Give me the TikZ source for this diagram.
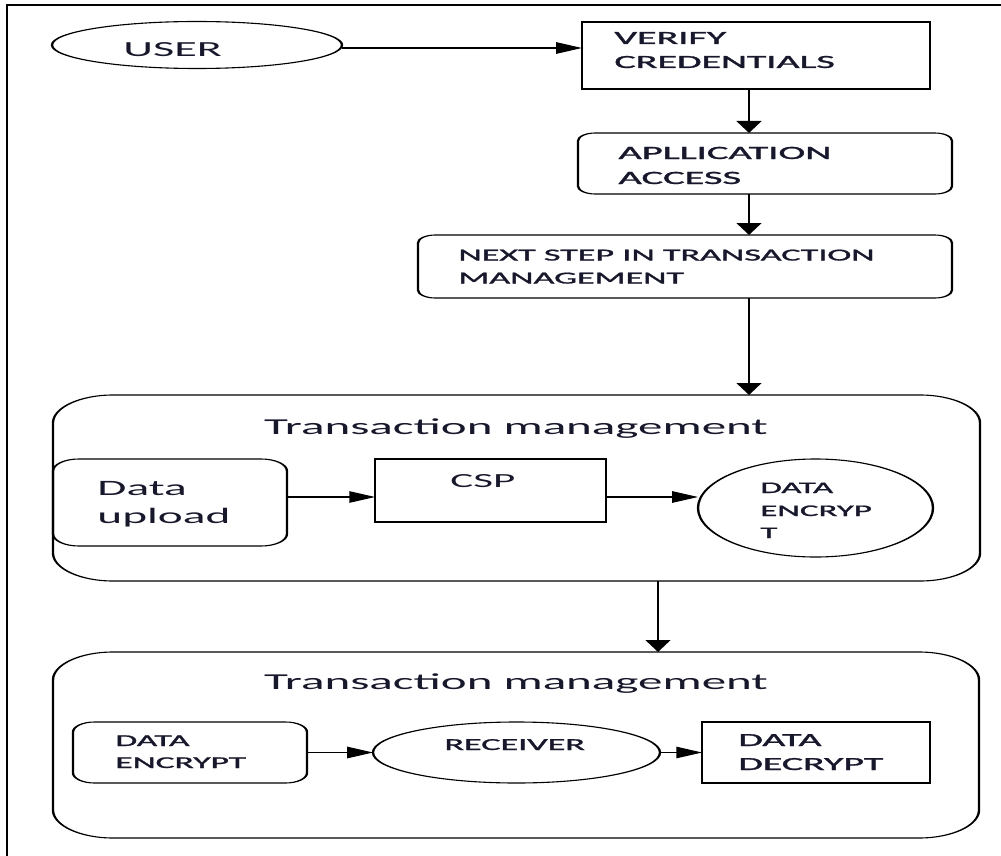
\documentclass[tikz,border=0pt]{standalone}
\usepackage{fontspec}
\setmainfont{Carlito}
\newfontfamily\heavyfont{Carlito}[FakeBold=1.2]
\usetikzlibrary{shapes.geometric,arrows.meta}
\definecolor{txt}{RGB}{24,24,44}
\begin{document}
\begin{tikzpicture}[x=1pt,y=-1pt]
\useasboundingbox (0,0) rectangle (1001,856);
\begin{scope}[x=0.465116pt, y=-1pt, transform canvas={xscale=2.15},
  shp/.style={draw=black, line width=1.1pt, inner sep=0pt, outer sep=0pt},
  rbox/.style={shp, rectangle, rounded corners=#1},
  sbox/.style={shp, rectangle},
  ell/.style={shp, ellipse},
  lbl/.style={anchor=base west, inner sep=0pt, text=txt, font=\fontsize{#1}{#1}\selectfont},
  hlbl/.style={anchor=base west, inner sep=0pt, text=txt, font=\heavyfont\fontsize{#1}{#1}\selectfont},
  ttl/.style={anchor=base, inner sep=0pt, text=txt, font=\fontsize{22.8}{24}\selectfont},
  arr/.style={line width=1.1pt, -{Triangle[length=12pt,width=11.5pt]}}]
% outer frame
\draw[line width=1.3pt] (1010,5) -- (7,5) -- (7,866);
% shapes
\node[ell, minimum width=134.9pt, minimum height=47pt] (user) at (197,45) {};
\node[sbox, minimum width=161.9pt, minimum height=67pt] (verify) at (756,55.5) {};
\node[rbox=8pt, minimum width=174pt, minimum height=61pt] (app) at (765,163.5) {};
\node[rbox=8pt, minimum width=248.4pt, minimum height=63pt] (next) at (685,266.5) {};
\node[rbox=28pt, minimum width=431.2pt, minimum height=186pt] (tm1) at (516.5,488) {};
\node[rbox=12pt, minimum width=108.8pt, minimum height=87pt] (upload) at (170,502.5) {};
\node[sbox, minimum width=107.4pt, minimum height=63pt] (csp) at (490.5,490.5) {};
\node[ell, minimum width=109.3pt, minimum height=98pt] (enc) at (815.5,508) {};
\node[rbox=28pt, minimum width=430.7pt, minimum height=186pt] (tm2) at (516,745) {};
\node[rbox=10pt, minimum width=108.8pt, minimum height=61pt] (denc) at (190,752.5) {};
\node[ell, minimum width=133.5pt, minimum height=61pt] (recv) at (516.5,752.5) {};
\node[sbox, minimum width=106pt, minimum height=61pt] (ddec) at (816,752.5) {};
% texts
\node[lbl=21.5] (tuser) at (123,56.8) {USER};
\node[hlbl=18.6] (tver1) at (614,44) {VERIFY};
\node[hlbl=18.6] (tver2) at (614,68) {CREDENTIALS};
\node[hlbl=18.8] (tapp1) at (618,159) {APLLICATION};
\node[hlbl=18.8] (tapp2) at (618,184) {ACCESS};
\node[hlbl=16.8] (tnext1) at (458,260.5) {NEXT STEP IN TRANSACTION};
\node[hlbl=16.8] (tnext2) at (458,283.5) {MANAGEMENT};
\node[ttl] (ttm1) at (516,434) {Transaction management};
\node[lbl=22] (tup1) at (97,495) {Data};
\node[lbl=22] (tup2) at (97,523) {upload};
\node[lbl=20] (tcsp) at (450,487) {CSP};
\node[hlbl=16.2] (tenc1) at (760,493) {DATA};
\node[hlbl=16.2] (tenc2) at (760,516) {ENCRYP};
\node[hlbl=16.2] (tenc3) at (760,538) {T};
\node[ttl] (ttm2) at (516,689) {Transaction management};
\node[hlbl=16.5] (tde1) at (115,746) {DATA};
\node[hlbl=16.5] (tde2) at (115,768) {ENCRYPT};
\node[hlbl=16.8] (trecv) at (444,750) {RECEIVER};
\node[hlbl=18.5] (tdd1) at (738,746) {DATA};
\node[hlbl=18.5] (tdd2) at (738,770) {DECRYPT};
% helper coordinates
\coordinate (vx) at (749,0);
\coordinate (tx) at (658,0);
\coordinate (ry) at (0,497);
\coordinate (uy) at (0,48);
% connectors
\draw[arr] (uy -| user.east) -- (uy -| verify.west);
\draw[arr] (verify.south -| vx) -- (app.north -| vx);
\draw[arr] (app.south -| vx) -- (next.north -| vx);
\draw[arr] (next.south -| vx) -- (tm1.north -| vx);
\draw[arr] (ry -| upload.east) -- (ry -| csp.west);
\draw[arr] (ry -| csp.east) -- (ry -| enc.west);
\draw[arr] (tm1.south -| tx) -- (tm2.north -| tx);
\draw[arr] (denc.east) -- (recv.west);
\draw[arr] (recv.east) -- (ddec.west);
\end{scope}
\end{tikzpicture}
\end{document}
